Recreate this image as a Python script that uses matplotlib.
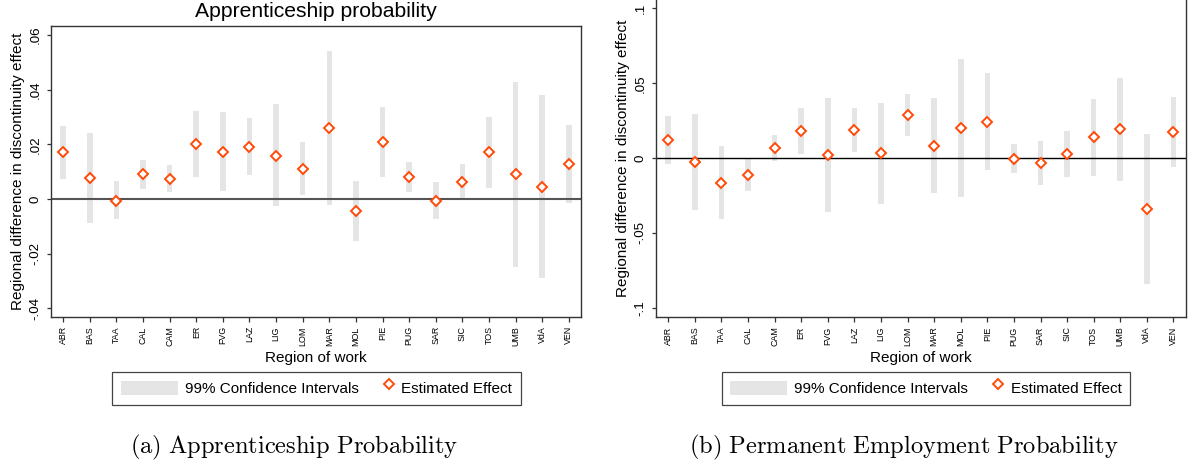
import matplotlib
matplotlib.use("Agg")
import matplotlib.pyplot as plt
from matplotlib.patches import Patch
from matplotlib.lines import Line2D
import numpy as np

plt.rcParams['font.family'] = ['Liberation Sans', 'DejaVu Sans']
plt.rcParams['mathtext.fontset'] = 'cm'

regions = ["ABR", "BAS", "TAA", "CAL", "CAM", "ER", "FVG", "LAZ", "LIG", "LOM",
           "MAR", "MOL", "PIE", "PUG", "SAR", "SIC", "TOS", "UMB", "VdA", "VEN"]

# (a) Apprenticeship probability
appr_est = [0.0171, 0.0077, -0.0006, 0.0090, 0.0073, 0.0201, 0.0173, 0.0191, 0.0158, 0.0111,
            0.0259, -0.0044, 0.0209, 0.0080, -0.0006, 0.0061, 0.0171, 0.0090, 0.0044, 0.0127]
appr_lo = [0.0074, -0.0087, -0.0074, 0.0038, 0.0026, 0.0082, 0.0029, 0.0088, -0.0027, 0.0016,
           -0.0021, -0.0153, 0.0082, 0.0027, -0.0072, -0.0005, 0.0041, -0.0249, -0.0290, -0.0016]
appr_hi = [0.0267, 0.0241, 0.0065, 0.0143, 0.0124, 0.0322, 0.0317, 0.0296, 0.0346, 0.0207,
           0.0540, 0.0066, 0.0335, 0.0135, 0.0061, 0.0128, 0.0301, 0.0428, 0.0380, 0.0271]

# (b) Permanent employment probability
perm_est = [0.0120, -0.0025, -0.0165, -0.0111, 0.0067, 0.0180, 0.0020, 0.0187, 0.0033, 0.0289,
            0.0082, 0.0200, 0.0243, -0.0004, -0.0031, 0.0024, 0.0140, 0.0191, -0.0341, 0.0172]
perm_lo = [-0.0038, -0.0345, -0.0405, -0.0220, -0.0022, 0.0029, -0.0361, 0.0040, -0.0305, 0.0147,
           -0.0236, -0.0263, -0.0080, -0.0098, -0.0178, -0.0127, -0.0118, -0.0154, -0.0844, -0.0060]
perm_hi = [0.0281, 0.0294, 0.0080, 0.0002, 0.0154, 0.0334, 0.0401, 0.0334, 0.0370, 0.0430,
           0.0401, 0.0661, 0.0566, 0.0091, 0.0116, 0.0178, 0.0394, 0.0534, 0.0160, 0.0405]

appr_yticks = [-0.04, -0.02, 0, 0.02, 0.04, 0.06]
appr_yticklabels = ["-.04", "-.02", "0", ".02", ".04", ".06"]
perm_yticks = [-0.1, -0.05, 0, 0.05, 0.1]
perm_yticklabels = ["-.1", "-.05", "0", ".05", ".1"]

W, H = 1189, 466
fig = plt.figure(figsize=(W / 100, H / 100), dpi=100)

ORANGE = '#ff4a0a'
GRAY = '#e5e5e5'
SPINE = '#333333'


class DiamondHandler:
    def legend_artist(self, legend, orig_handle, fontsize, handlebox):
        x0, y0 = handlebox.xdescent, handlebox.ydescent
        w, h = handlebox.width, handlebox.height
        ln = Line2D([x0 + w * 0.9], [y0 + h / 2], marker='D', markersize=5.5,
                    markerfacecolor='white', markeredgecolor=ORANGE,
                    markeredgewidth=1.4, linestyle='none')
        handlebox.add_artist(ln)
        return ln


def panel(rect_px, est, lo, hi, ylim, yticks, yticklabels, zero_color, zero_lw,
          ylabel_y, legend_center, title=None):
    left, top, width, height = rect_px
    bottom_px = top + height
    ax = fig.add_axes([left / W, (H - bottom_px) / H, width / W, height / H])
    x = np.arange(1, len(regions) + 1)
    lo = np.array(lo)
    hi = np.array(hi)
    ax.bar(x, hi - lo, bottom=lo, width=0.21, color=GRAY, zorder=1, linewidth=0)
    ax.axhline(0, color=zero_color, lw=zero_lw, zorder=2)
    ax.plot(x, est, linestyle='none', marker='D', markersize=5.5,
            markerfacecolor='white', markeredgecolor=ORANGE, markeredgewidth=1.4, zorder=3)
    ax.set_xlim(0.54, 20.46)
    ax.set_ylim(*ylim)
    ax.set_xticks(x)
    ax.set_xticklabels(regions, rotation=90, fontsize=6.4)
    ax.set_yticks(yticks)
    ax.set_yticklabels(yticklabels, rotation=90, va='center', fontsize=9.6)
    ax.tick_params(axis='y', length=3, width=0.9, color=SPINE, pad=4)
    ax.tick_params(axis='x', length=3.6, width=0.9, color=SPINE, pad=3)
    for s in ax.spines.values():
        s.set_color(SPINE)
        s.set_linewidth(1.0)
    ax.set_xlabel("Region of work", fontsize=11)
    ax.xaxis.label.set_va('center')
    ax.xaxis.set_label_coords(0.5, -(358 - bottom_px) / height)
    ax.set_ylabel("Regional difference in discontinuity effect", fontsize=11)
    ax.yaxis.label.set_va('center')
    ax.yaxis.set_label_coords(-33 / width, ylabel_y)
    if title:
        ax.set_title(title, fontsize=15.2, pad=6.7)
    handles = [Patch(facecolor=GRAY, edgecolor='none'),
               Line2D([], [], marker='D', linestyle='none')]
    leg = ax.legend(handles, ["99% Confidence Intervals", "Estimated Effect"],
                    handler_map={Line2D: DiamondHandler()},
                    loc='center', bbox_to_anchor=legend_center,
                    bbox_transform=fig.transFigure, ncol=2, fontsize=11,
                    handlelength=3.75, handleheight=1.05, handletextpad=0.45,
                    columnspacing=-1.4, borderpad=0.55, fancybox=False,
                    framealpha=1, edgecolor='#444444')
    leg.get_frame().set_linewidth(0.9)
    return ax


panel((51, 26, 530, 291), appr_est, appr_lo, appr_hi,
      (-0.0432, 0.0633), appr_yticks, appr_yticklabels, '#555555', 1.5, 0.5,
      (316.5 / W, 1 - 388.5 / H), title="Apprenticeship probability")

panel((656, -6.6, 529.7, 323.9), perm_est, perm_lo, perm_hi,
      (-0.1064, 0.11), perm_yticks, perm_yticklabels, 'black', 1.0, 0.492,
      (926 / W, 1 - 388.5 / H))

fig.text(294 / W, 1 - 447.5 / H, r'$\mathrm{(a)\ Apprenticeship\ Probability}$',
         ha='center', va='center', fontsize=17.6)
fig.text(904 / W, 1 - 447.5 / H, r'$\mathrm{(b)\ Permanent\ Employment\ Probability}$',
         ha='center', va='center', fontsize=17.6)

fig.savefig("out.png", dpi=100)
